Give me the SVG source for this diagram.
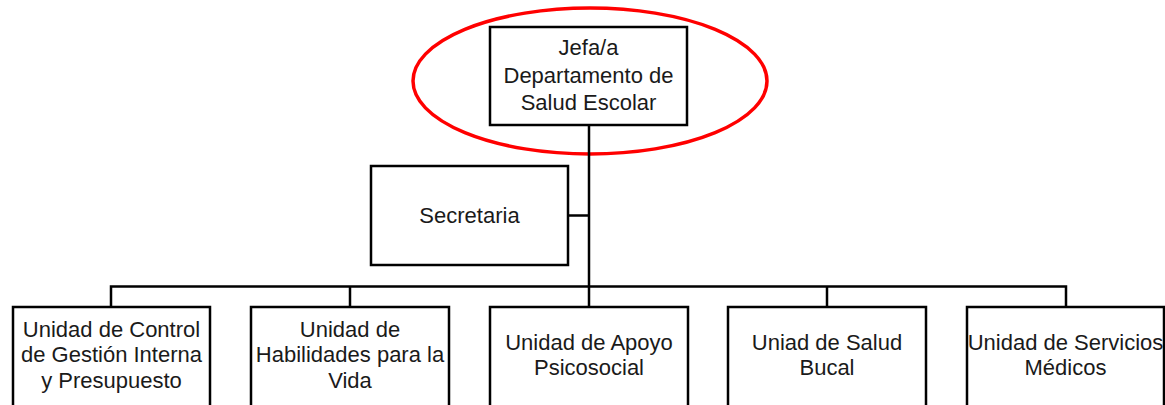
<svg xmlns="http://www.w3.org/2000/svg" width="1165" height="405" viewBox="0 0 1165 405">
<style>
.box{fill:#fff;stroke:#000;stroke-width:2.5}
.t{font-family:"Liberation Sans",Arial,sans-serif;font-size:22px;fill:#1a1a1a;text-anchor:middle}
.c{fill:none;stroke:#000;stroke-width:2.5}
</style>
<rect width="1165" height="405" fill="#fff"/>
<ellipse cx="590" cy="81" rx="177" ry="73" fill="none" stroke="#ff0000" stroke-width="3.5"/>
<g id="connectors">
<line class="c" x1="589" y1="125" x2="589" y2="287" stroke-width="3.5"/>
<line class="c" x1="568" y1="215.5" x2="589" y2="215.5"/>
<polyline class="c" points="111,307 111,286.5 1066,286.5 1066,307"/>
<line class="c" x1="350" y1="286.5" x2="350" y2="307"/>
<line class="c" x1="589" y1="286.5" x2="589" y2="307"/>
<line class="c" x1="827" y1="286.5" x2="827" y2="307"/>
</g>
<g id="jefa">
<rect class="box" x="490" y="27" width="197" height="98"/>
<text class="t" x="588.5" y="55">Jefa/a</text>
<text class="t" x="588.5" y="83">Departamento de</text>
<text class="t" x="588.5" y="110">Salud Escolar</text>
</g>
<g id="secretaria">
<rect class="box" x="371" y="166" width="197" height="99"/>
<text class="t" x="469.5" y="223">Secretaria</text>
</g>
<g id="control">
<rect class="box" x="13" y="307" width="197" height="102"/>
<text class="t" x="111.5" y="337">Unidad de Control</text>
<text class="t" x="111.5" y="362">de Gestión Interna</text>
<text class="t" x="111.5" y="388">y Presupuesto</text>
</g>
<g id="habilidades">
<rect class="box" x="251" y="307" width="198" height="102"/>
<text class="t" x="350" y="337">Unidad de</text>
<text class="t" x="350" y="362">Habilidades para la</text>
<text class="t" x="350" y="388">Vida</text>
</g>
<g id="apoyo">
<rect class="box" x="490" y="307" width="198" height="102"/>
<text class="t" x="589" y="350">Unidad de Apoyo</text>
<text class="t" x="589" y="375">Psicosocial</text>
</g>
<g id="bucal">
<rect class="box" x="728" y="307" width="198" height="102"/>
<text class="t" x="827" y="350">Uniad de Salud</text>
<text class="t" x="827" y="375">Bucal</text>
</g>
<g id="medicos">
<rect class="box" x="967" y="307" width="197" height="102"/>
<text class="t" x="1065.5" y="350">Unidad de Servicios</text>
<text class="t" x="1065.5" y="375">Médicos</text>
</g>
</svg>
